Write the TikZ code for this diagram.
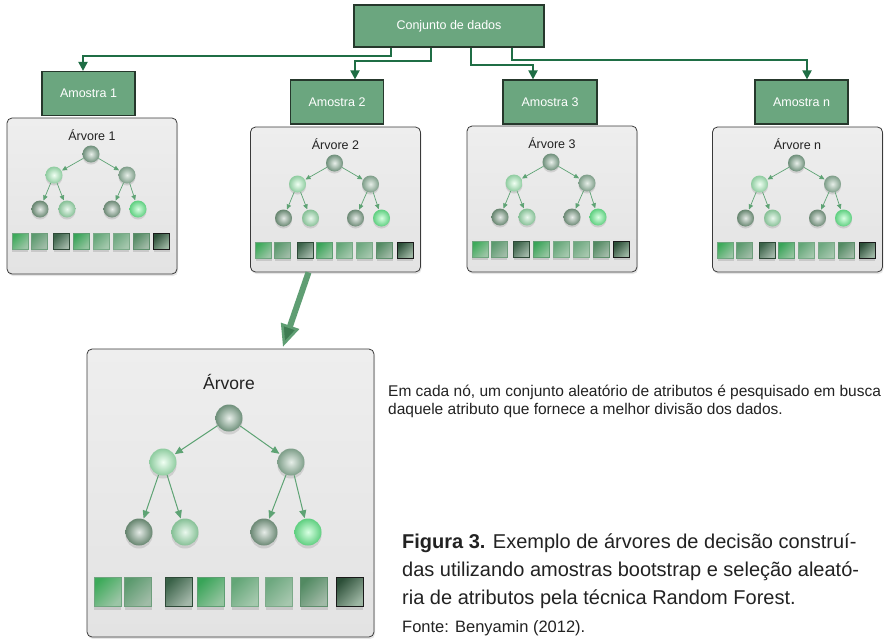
\documentclass[tikz,border=0pt]{standalone}
\usepackage{fontspec}
\setmainfont{Liberation Sans}
\usetikzlibrary{arrows.meta,calc,shadows}
\definecolor{boxgreen}{HTML}{6BA67F}
\definecolor{boxdraw}{HTML}{26382C}
\definecolor{conn}{HTML}{1F6E45}
\definecolor{edgegreen}{HTML}{5EA374}
\definecolor{paneltop}{HTML}{EEEEEE}
\definecolor{panelbot}{HTML}{E3E3E3}
\definecolor{paneldraw}{HTML}{3A3A3A}
\definecolor{bigarrowc}{HTML}{5F9E73}
\definecolor{bigarrowd}{HTML}{3E7C52}
\definecolor{txt}{HTML}{222222}
% square colours
\definecolor{sqa1}{HTML}{3DAA5A}\definecolor{sqa2}{HTML}{9CC5A6}\definecolor{sqa3}{HTML}{6FA57F}
\definecolor{sqb1}{HTML}{5B9A6E}\definecolor{sqb2}{HTML}{A0BCA7}\definecolor{sqb3}{HTML}{6E9E7C}
\definecolor{sqc1}{HTML}{3A6248}\definecolor{sqc2}{HTML}{A3B7A9}\definecolor{sqc3}{HTML}{2E4A38}
\definecolor{sqd1}{HTML}{38A458}\definecolor{sqd2}{HTML}{94C49F}\definecolor{sqd3}{HTML}{5E9E72}
\definecolor{sqe1}{HTML}{63A677}\definecolor{sqe2}{HTML}{A4C8AD}\definecolor{sqe3}{HTML}{78AA87}
\definecolor{sqf1}{HTML}{6DA87F}\definecolor{sqf2}{HTML}{A6C7AE}\definecolor{sqf3}{HTML}{7CAA89}
\definecolor{sqg1}{HTML}{528A62}\definecolor{sqg2}{HTML}{A1BAA7}\definecolor{sqg3}{HTML}{5E8E6C}
\definecolor{sqh1}{HTML}{2C4F38}\definecolor{sqh2}{HTML}{9DB6A3}\definecolor{sqh3}{HTML}{1A1A1A}
% ball colours
\definecolor{ndAo}{HTML}{6E8F7A}\definecolor{ndAi}{HTML}{E8EFEA}
\definecolor{ndBo}{HTML}{8FCCA0}\definecolor{ndBi}{HTML}{F0FFF3}
\definecolor{ndCo}{HTML}{7E9E89}\definecolor{ndCi}{HTML}{E6EEE8}
\definecolor{ndDo}{HTML}{66856F}\definecolor{ndDi}{HTML}{E4EAE6}
\definecolor{ndEo}{HTML}{86C096}\definecolor{ndEi}{HTML}{EAF8EE}
\definecolor{ndFo}{HTML}{6C8975}\definecolor{ndFi}{HTML}{E6ECE8}
\definecolor{ndGo}{HTML}{5FCF80}\definecolor{ndGi}{HTML}{D8FFE2}

\tikzset{
  sample/.style={draw=boxdraw, line width=1.2pt, fill=boxgreen, text=white,
    font=\fontsize{12.5}{15}\selectfont, minimum width=93, minimum height=44, inner sep=0},
  conn/.style={draw=conn, line width=2pt, -{Triangle[length=9pt,width=9pt]}},
  panel/.style={rectangle, rounded corners=5pt, draw=paneldraw, line width=0.8pt,
    top color=paneltop, bottom color=panelbot, minimum width=170, inner sep=0,
    drop shadow={opacity=0.2, shadow xshift=1pt, shadow yshift=-2pt}},
  ttl/.style={font=\fontsize{12.5}{15}\selectfont, text=txt, inner sep=0},
  nd/.style={circle, minimum size=17, inner sep=0,
    drop shadow={opacity=0.25, shadow xshift=0pt, shadow yshift=-2pt}},
  ndbig/.style={circle, minimum size=27, inner sep=0,
    drop shadow={opacity=0.25, shadow xshift=0pt, shadow yshift=-3pt}},
  ndA/.style={inner color=ndAi, outer color=ndAo},
  ndB/.style={inner color=ndBi, outer color=ndBo},
  ndC/.style={inner color=ndCi, outer color=ndCo},
  ndD/.style={inner color=ndDi, outer color=ndDo},
  ndE/.style={inner color=ndEi, outer color=ndEo},
  ndF/.style={inner color=ndFi, outer color=ndFo},
  ndG/.style={inner color=ndGi, outer color=ndGo},
  tedge/.style={draw=edgegreen, line width=0.7pt, -{Triangle[length=5pt,width=4.5pt]}, shorten >=0.5pt},
  tedgebig/.style={draw=edgegreen, line width=1pt, -{Triangle[length=8pt,width=7pt]}, shorten >=0.5pt},
  sqshadow/.style={fill=black, opacity=0.12},
  bigarrow/.style={draw=bigarrowc, line width=6pt,
    -{Triangle[length=22pt,width=19pt,line width=2.5pt,fill=bigarrowd]}},
  body/.style={text=txt, inner sep=0, anchor=base west}
}

\newcommand\rfpanel[5]{%
  \node[panel, minimum height={#4-#3}] (#1) at (#2,{(#3+#4)/2}) {};
  \node[ttl] (#1t) at (#2,#3+17) {#5};
  \node[nd, ndA] (#1r) at (#2-1,#3+36) {};
  \node[nd, ndB] (#1a) at (#2-38,#3+57) {};
  \node[nd, ndC] (#1b) at (#2+35,#3+57) {};
  \node[nd, ndD] (#1c) at (#2-52,#3+91) {};
  \node[nd, ndE] (#1d) at (#2-25,#3+91) {};
  \node[nd, ndF] (#1e) at (#2+20,#3+91) {};
  \node[nd, ndG] (#1f) at (#2+46,#3+91) {};
  \draw[tedge] (#1r) -- (#1a);
  \draw[tedge] (#1r) -- (#1b);
  \draw[tedge] (#1a) -- (#1c);
  \draw[tedge] (#1a) -- (#1d);
  \draw[tedge] (#1b) -- (#1e);
  \draw[tedge] (#1b) -- (#1f);
  \foreach \dx/\ca/\cb/\cd in {-72/sqa1/sqa2/sqa3, -53/sqb1/sqb2/sqb3, -30.5/sqc1/sqc2/sqc3,
      -11/sqd1/sqd2/sqd3, 9/sqe1/sqe2/sqe3, 29/sqf1/sqf2/sqf3, 49/sqg1/sqg2/sqg3, 69.5/sqh1/sqh2/sqh3} {
    \fill[sqshadow] (#2+\dx-8,#3+117.5) rectangle (#2+\dx+8,#3+133.5);
    \shade[top color=\ca, bottom color=\cb, shading angle=45, draw=\cd, line width=0.6pt]
      (#2+\dx-8,#3+115) rectangle (#2+\dx+8,#3+131);
  }
}

\begin{document}
\begin{tikzpicture}[x=1pt,y=-1pt]
\useasboundingbox[fill=white] (0,0) rectangle (894,638);

% top data set and samples
\node[sample, minimum width=190, minimum height=42] (cj) at (449,26) {Conjunto de dados};
\node[sample] (a1) at (88.5,93.5) {Amostra 1};
\node[sample] (a2) at (337,102) {Amostra 2};
\node[sample, minimum width=94] (a3) at (550,102) {Amostra 3};
\node[sample] (an) at (801.5,102) {Amostra n};

\draw[conn] ($(cj.south west)+(38,0)$) -- ++(0,8) -| ($(a1.north)+(-5.5,0)$);
\draw[conn] ($(cj.south west)+(78,0)$) -- ++(0,13) -| ($(a2.north)+(18,0)$);
\draw[conn] ($(cj.south west)+(118,0)$) -- ++(0,17) -| ($(a3.north)+(-17,0)$);
\draw[conn] ($(cj.south west)+(159,0)$) -- ++(0,12) -| ($(an.north)+(5.5,0)$);

% small tree panels
\rfpanel{t1}{92}{118}{274}{Árvore 1}
\rfpanel{t2}{335.5}{127}{272}{Árvore 2}
\rfpanel{t3}{552}{126}{272}{Árvore 3}
\rfpanel{tn}{797.5}{127}{272}{Árvore n}

% big tree panel
\node[panel, minimum width=287, minimum height=288] (tb) at (230.5,493) {};
\node[ttl, font=\fontsize{17.5}{20}\selectfont] (tbt) at (229,382) {Árvore};
\node[ndbig, ndA] (tbr) at (229,418) {};
\node[ndbig, ndB] (tba) at (163,462) {};
\node[ndbig, ndC] (tbb) at (291,462) {};
\node[ndbig, ndD] (tbc) at (139,532) {};
\node[ndbig, ndE] (tbd) at (185,532) {};
\node[ndbig, ndF] (tbe) at (264,532) {};
\node[ndbig, ndG] (tbf) at (308,532) {};
\draw[tedgebig] (tbr) -- (tba);
\draw[tedgebig] (tbr) -- (tbb);
\draw[tedgebig] (tba) -- (tbc);
\draw[tedgebig] (tba) -- (tbd);
\draw[tedgebig] (tbb) -- (tbe);
\draw[tedgebig] (tbb) -- (tbf);
\foreach \cx/\ca/\cb/\cd in {107.5/sqa1/sqa2/sqa3, 138/sqb1/sqb2/sqb3, 178.5/sqc1/sqc2/sqc3,
    210.5/sqd1/sqd2/sqd3, 245/sqe1/sqe2/sqe3, 279/sqf1/sqf2/sqf3, 314/sqg1/sqg2/sqg3, 349.5/sqh1/sqh2/sqh3} {
  \fill[sqshadow] (\cx-13.5,581) rectangle (\cx+13.5,610);
  \shade[top color=\ca, bottom color=\cb, shading angle=45, draw=\cd, line width=0.8pt]
    (\cx-13.5,577) rectangle (\cx+13.5,606);
}

% arrow from tree 2 to the enlarged tree
\draw[bigarrow] ($(t2.south)+(-27,0)$) -- ($(tb.north)+(52.5,-2)$);

% texts
\node[body, font=\fontsize{15.5}{18}\selectfont] (em1) at (388,396)
  {Em cada nó, um conjunto aleatório de atributos é pesquisado em busca};
\node[body, font=\fontsize{15.5}{18}\selectfont] (em2) at (388,414)
  {daquele atributo que fornece a melhor divisão dos dados.};
\node[body, font=\fontsize{20}{24}\selectfont] (cap1) at (402,548)
  {\textbf{Figura 3.} Exemplo de árvores de decisão construí-};
\node[body, font=\fontsize{20}{24}\selectfont] (cap2) at (402,576)
  {das utilizando amostras bootstrap e seleção aleató-};
\node[body, font=\fontsize{20}{24}\selectfont] (cap3) at (402,604)
  {ria de atributos pela técnica Random Forest.};
\node[body, font=\fontsize{16.5}{20}\selectfont] (fonte) at (402,632)
  {Fonte: Benyamin (2012).};
\end{tikzpicture}
\end{document}
